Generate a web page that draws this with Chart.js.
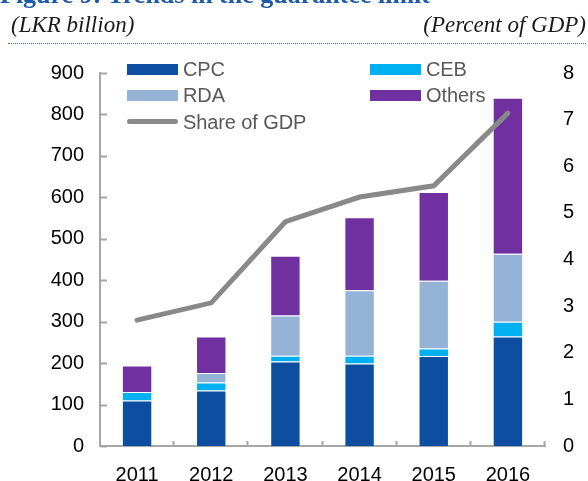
<!DOCTYPE html>
<html>
<head>
<meta charset="utf-8">
<script src="https://cdn.jsdelivr.net/npm/chart.js@4.4.1/dist/chart.umd.min.js"></script>
<style>
  body { margin: 0; background: #fff; }
  #wrap { position: relative; width: 588px; height: 481px; overflow: hidden; }
  #chart { position: absolute; left: 0; top: 0; }
  .title { position: absolute; left: 0; top: -20px; font: bold 26px "Liberation Serif", serif; color: #1f5aa6; white-space: nowrap; }
  .sub { position: absolute; top: 12px; font: italic 23px "Liberation Serif", serif; color: #1a1a1a; white-space: nowrap; }
  .rule { position: absolute; left: 8px; right: 2px; top: 43px; border-top: 1px dotted #4472c4; }
  #legend { position: absolute; left: 0; top: 0; font: 20px "Liberation Sans", Arial, sans-serif; color: #595959; }
  .item { position: absolute; height: 24px; line-height: 24px; white-space: nowrap; }
  .item .sw { position: absolute; left: 0; width: 51px; }
  .item span { position: absolute; left: 56px; letter-spacing: -0.1px; }
</style>
</head>
<body>
<div id="wrap">
  <canvas id="chart" width="588" height="481"></canvas>
  <div class="title">Figure 9: Trends in the guarantee limit</div>
  <div class="sub" style="left:11px">(LKR billion)</div>
  <div class="sub" style="right:2px">(Percent of GDP)</div>
  <div class="rule"></div>
  <div id="legend"></div>
</div>
<script>
// data
const years = ["2011", "2012", "2013", "2014", "2015", "2016"];
const cpc = [110, 134, 204, 199, 217, 264];
const ceb = [20, 19, 14, 19, 18, 36];
const rda = [0, 23, 97, 158, 164, 164];
const others = [64, 88, 144, 176, 214, 376];
const shareOfGdp = [2.70, 3.07, 4.81, 5.34, 5.58, 7.14];

const leftTicks = [0, 100, 200, 300, 400, 500, 600, 700, 800, 900];
const rightTicks = [0, 1, 2, 3, 4, 5, 6, 7, 8];

const colCPC = "#0d4ea0";
const colCEB = "#00b0f0";
const colRDA = "#95b3d7";
const colOth = "#7030a0";
const colLine = "#898989";
const axisCol = "#a6a6a6";

function bar(label, data, color) {
    return {
        type: "bar",
        label: label,
        data: data,
        backgroundColor: color,
        borderColor: "rgba(255,255,255,0.3)",
        borderWidth: 1,
        stack: "g",
        yAxisID: "y",
        order: 1,
        barPercentage: 0.41,
        categoryPercentage: 1
    };
}

// inward tick marks, like the original
const innerTicks = {
    id: "innerTicks",
    afterDraw(chart) {
        const ctx = chart.ctx;
        const x = chart.scales.x;
        const y = chart.scales.y;
        ctx.save();
        ctx.strokeStyle = axisCol;
        ctx.lineWidth = 2;
        ctx.beginPath();
        y.ticks.forEach(t => {
            const py = Math.round(y.getPixelForValue(t.value)) + 0.5;
            ctx.moveTo(x.left, py);
            ctx.lineTo(x.left + 7, py);
        });
        for (let i = 0; i < years.length; i++) {
            let px;
            if (i < years.length - 1) px = (x.getPixelForValue(i) + x.getPixelForValue(i + 1)) / 2;
            else px = x.right;
            px = Math.round(px) - 0.5;
            ctx.moveTo(px, y.bottom);
            ctx.lineTo(px, y.bottom - 5);
        }
        ctx.stroke();
        ctx.restore();
    }
};

const tickFont = { family: "'Liberation Sans', Arial, sans-serif", size: 20 };

new Chart(document.getElementById("chart"), {
    data: {
        labels: years,
        datasets: [
            {
                type: "line",
                label: "Share of GDP",
                data: shareOfGdp,
                yAxisID: "y1",
                borderColor: colLine,
                borderWidth: 5,
                borderCapStyle: "round",
                borderJoinStyle: "miter",
                pointRadius: 0,
                tension: 0,
                order: 0
            },
            bar("CPC", cpc, colCPC),
            bar("CEB", ceb, colCEB),
            bar("RDA", rda, colRDA),
            bar("Others", others, colOth)
        ]
    },
    options: {
        responsive: false,
        animation: false,
        layout: { padding: { top: 73, left: 0, right: 0, bottom: 0 } },
        plugins: { legend: { display: false }, tooltip: { enabled: false } },
        scales: {
            x: {
                stacked: true,
                offset: true,
                grid: { display: false },
                border: { display: true, color: axisCol, width: 2 },
                ticks: { color: "#000", font: tickFont, padding: 9, maxRotation: 0 },
                afterFit: s => { s.height = 35; }
            },
            y: {
                stacked: true,
                position: "left",
                min: 0,
                max: 900,
                afterBuildTicks: s => { s.ticks = leftTicks.map(v => ({ value: v })); },
                grid: { display: false, drawTicks: false },
                border: { display: true, color: axisCol, width: 2 },
                ticks: { color: "#000", font: tickFont, padding: 16 },
                afterFit: s => { s.width = 100; }
            },
            y1: {
                position: "right",
                min: 0,
                max: 8,
                afterBuildTicks: s => { s.ticks = rightTicks.map(v => ({ value: v })); },
                grid: { display: false, drawTicks: false },
                border: { display: false },
                ticks: { color: "#000", font: tickFont, padding: 18 },
                afterFit: s => { s.width = 43; }
            }
        }
    },
    plugins: [innerTicks]
});

// legend, two columns inside the plot
const legendItems = [
    { label: "CPC", color: colCPC, x: 127, y: 69 },
    { label: "CEB", color: colCEB, x: 370, y: 69 },
    { label: "RDA", color: colRDA, x: 127, y: 95 },
    { label: "Others", color: colOth, x: 370, y: 95 },
    { label: "Share of GDP", color: colLine, x: 127, y: 121.5, line: true }
];
const lg = document.getElementById("legend");
legendItems.forEach(it => {
    const d = document.createElement("div");
    d.className = "item";
    d.style.left = it.x + "px";
    d.style.top = (it.y - 12) + "px";
    const sw = document.createElement("div");
    sw.className = "sw";
    sw.style.background = it.color;
    if (it.line) {
        sw.style.height = "5px";
        sw.style.top = "9.5px";
        sw.style.borderRadius = "3px";
    } else {
        sw.style.height = "11px";
        sw.style.top = "6.5px";
    }
    const t = document.createElement("span");
    t.textContent = it.label;
    d.appendChild(sw);
    d.appendChild(t);
    lg.appendChild(d);
});
</script>
</body>
</html>
